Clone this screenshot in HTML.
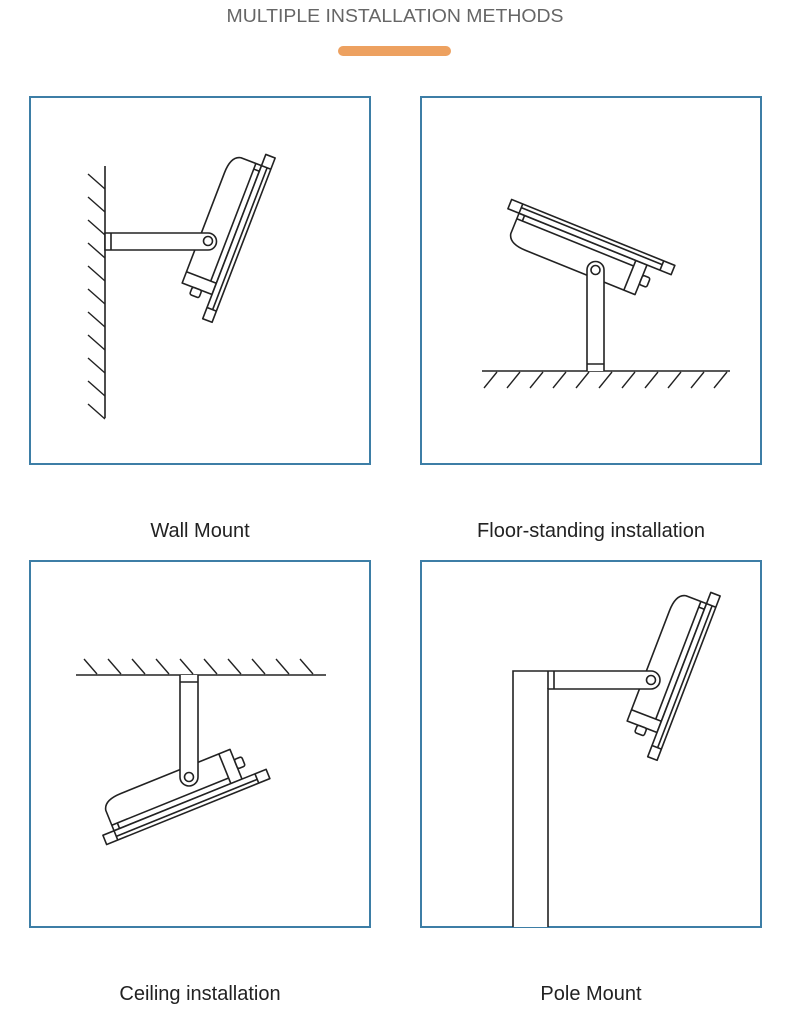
<!DOCTYPE html>
<html><head><meta charset="utf-8"><style>
html,body{margin:0;padding:0;background:#fff;}
svg{display:block;}
</style></head><body>
<svg width="790" height="1023" viewBox="0 0 790 1023" xmlns="http://www.w3.org/2000/svg">
<defs>
<g id="light" fill="#fff" stroke="#222" stroke-width="1.6" stroke-linejoin="round">
  <path d="M-4,-76 L-26,-76 Q-36,-74 -36,-56 L-36,62 L-4,62 Z"/>
  <line x1="-10" y1="-76" x2="-10" y2="50"/>
  <line x1="-4" y1="-70" x2="-10" y2="-70"/>
  <line x1="-4" y1="50" x2="-36" y2="50"/>
  <rect x="-25" y="62" width="10" height="8" rx="2"/>
  <rect x="-4" y="-88" width="10" height="176"/>
  <line x1="2" y1="-76" x2="2" y2="76"/>
  <line x1="-4" y1="76" x2="6" y2="76"/>
  <line x1="-4" y1="-76" x2="6" y2="-76"/>
</g>
</defs>

<text x="395" y="22" text-anchor="middle" font-family="Liberation Sans, sans-serif" font-size="18" fill="#666" textLength="337" lengthAdjust="spacingAndGlyphs">MULTIPLE INSTALLATION METHODS</text>
<rect x="338" y="46" width="113" height="10" rx="5" fill="#eda160"/>

<g fill="none" stroke="#3d7ea6" stroke-width="2">
  <rect x="30" y="97" width="340" height="367"/>
  <rect x="421" y="97" width="340" height="367"/>
  <rect x="30" y="561" width="340" height="366"/>
  <rect x="421" y="561" width="340" height="366"/>
</g>

<g font-family="Liberation Sans, sans-serif" font-size="20" fill="#222" text-anchor="middle">
  <text x="200" y="537">Wall Mount</text>
  <text x="591" y="537">Floor-standing installation</text>
  <text x="200" y="1000">Ceiling installation</text>
  <text x="591" y="1000">Pole Mount</text>
</g>

<g stroke="#222" stroke-width="1.6" fill="#fff">
  <!-- Wall -->
  <line x1="105" y1="166" x2="105" y2="418"/>
  <g stroke-width="1.4">
    <line x1="88" y1="174" x2="105" y2="189"/>
    <line x1="88" y1="197" x2="105" y2="212"/>
    <line x1="88" y1="220" x2="105" y2="235"/>
    <line x1="88" y1="243" x2="105" y2="258"/>
    <line x1="88" y1="266" x2="105" y2="281"/>
    <line x1="88" y1="289" x2="105" y2="304"/>
    <line x1="88" y1="312" x2="105" y2="327"/>
    <line x1="88" y1="335" x2="105" y2="350"/>
    <line x1="88" y1="358" x2="105" y2="373"/>
    <line x1="88" y1="381" x2="105" y2="396"/>
    <line x1="88" y1="404" x2="105" y2="419"/>
  </g>
  <use href="#light" transform="translate(238,238) rotate(21)"/>
  <path d="M105,233 L208,233 A8.5,8.5 0 0 1 208,250 L105,250 Z"/>
  <line x1="111" y1="233" x2="111" y2="250"/>
  <circle cx="208" cy="241" r="4.5"/>

  <!-- Floor -->
  <line x1="482" y1="371" x2="730" y2="371"/>
  <g stroke-width="1.4">
    <line x1="484" y1="388" x2="497" y2="372"/>
    <line x1="507" y1="388" x2="520" y2="372"/>
    <line x1="530" y1="388" x2="543" y2="372"/>
    <line x1="553" y1="388" x2="566" y2="372"/>
    <line x1="576" y1="388" x2="589" y2="372"/>
    <line x1="599" y1="388" x2="612" y2="372"/>
    <line x1="622" y1="388" x2="635" y2="372"/>
    <line x1="645" y1="388" x2="658" y2="372"/>
    <line x1="668" y1="388" x2="681" y2="372"/>
    <line x1="691" y1="388" x2="704" y2="372"/>
    <line x1="714" y1="388" x2="727" y2="372"/>
  </g>
  <use href="#light" transform="translate(591,238) rotate(-68)"/>
  <path d="M587,371 L587,270 A8.5,8.5 0 0 1 604,270 L604,371"/>
  <line x1="587" y1="364" x2="604" y2="364"/>
  <circle cx="595.5" cy="270" r="4.5"/>

  <!-- Ceiling -->
  <line x1="76" y1="675" x2="326" y2="675"/>
  <g stroke-width="1.4">
    <line x1="84" y1="659" x2="97" y2="674"/>
    <line x1="108" y1="659" x2="121" y2="674"/>
    <line x1="132" y1="659" x2="145" y2="674"/>
    <line x1="156" y1="659" x2="169" y2="674"/>
    <line x1="180" y1="659" x2="193" y2="674"/>
    <line x1="204" y1="659" x2="217" y2="674"/>
    <line x1="228" y1="659" x2="241" y2="674"/>
    <line x1="252" y1="659" x2="265" y2="674"/>
    <line x1="276" y1="659" x2="289" y2="674"/>
    <line x1="300" y1="659" x2="313" y2="674"/>
  </g>
  <use href="#light" transform="translate(186,806) rotate(68) scale(1,-1)"/>
  <path d="M180,675 L180,777 A9,9 0 0 0 198,777 L198,675"/>
  <line x1="180" y1="682" x2="198" y2="682"/>
  <circle cx="189" cy="777" r="4.5"/>

  <!-- Pole -->
  <use href="#light" transform="translate(683,676) rotate(21)"/>
  <path d="M513,927 L513,671 L651,671 A9,9 0 0 1 651,689 L548,689 L548,927" />
  <line x1="548" y1="671" x2="548" y2="689"/>
  <line x1="554" y1="671" x2="554" y2="689"/>
  <circle cx="651" cy="680" r="4.5"/>
</g>
</svg>
</body></html>
